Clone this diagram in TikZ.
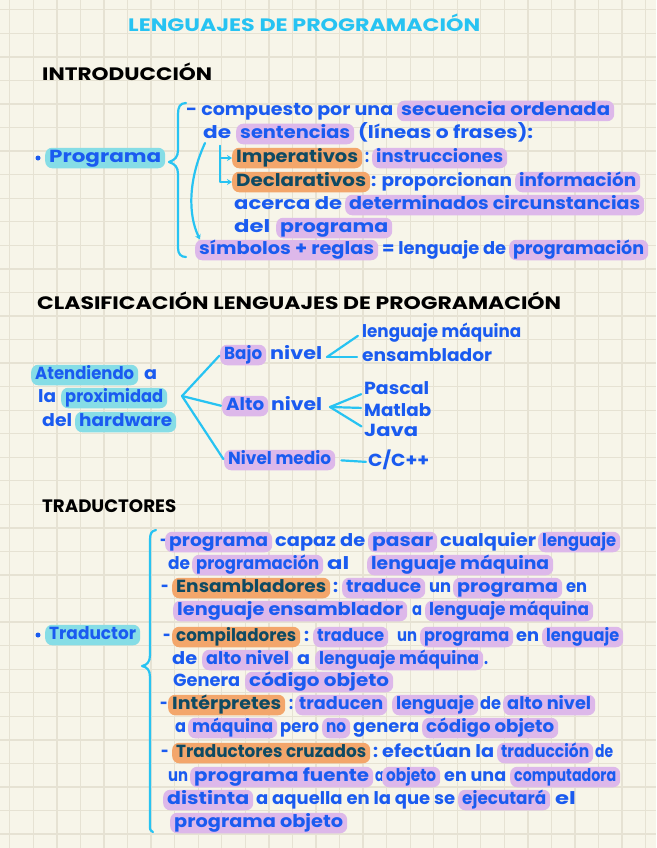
\documentclass[tikz,border=0pt]{standalone}
\usepackage{fontspec}
\usepackage{graphicx}
\setmainfont{Poppins}
\usetikzlibrary{arrows.meta}
\definecolor{bg}{HTML}{F7F5E9}
\definecolor{gridc}{HTML}{E6E2D3}
\definecolor{ink}{HTML}{1A5BF0}
\definecolor{cyanl}{HTML}{27C3F2}
\definecolor{lav}{HTML}{DDB8EA}
\definecolor{orng}{HTML}{F3A66B}
\definecolor{tealh}{HTML}{86DDE6}
\definecolor{dteal}{HTML}{0E4A63}
\newsavebox\fitbox
\newcommand\fitw[2]{\sbox\fitbox{#2}\pgfmathsetmacro\fitr{max(0.75,min(1.3,(#1)/\the\wd\fitbox))}\scalebox{\fitr}[1]{\usebox\fitbox}}
\newcommand\pl[5]{\node[txt] (#1) at (#2,#4+4.25) {\fitw{#3-#2}{#5}};}
\newcommand\hb[6]{\node[#1] (#2) at (#3,#5+4.25) {\fitw{#4-#3-8}{#6}};}
\newcommand\hd[6]{\node[head,#1] (#2) at (#3,#5+7) {\fitw{#4-#3}{#6}};}
\tikzset{
  txt/.style={anchor=base west, inner xsep=0pt, inner ysep=2.5pt, text height=12pt, text depth=3.5pt, font=\fontsize{17.5}{20}\selectfont\bfseries, text=ink},
  hlp/.style={txt, inner xsep=4pt, fill=lav, rounded corners=7pt},
  hlo/.style={txt, inner xsep=4pt, fill=orng, rounded corners=7pt, text=dteal},
  hlt/.style={txt, inner xsep=4pt, fill=tealh, rounded corners=7pt},
  head/.style={anchor=base west, inner sep=0pt, font=\fontsize{18}{20}\selectfont\bfseries, text=black},
  conn/.style={draw=cyanl, line width=2.2pt, line cap=round, line join=round},
  gridl/.style={draw=gridc, line width=1.3pt},
  dotn/.style={circle, fill=ink, inner sep=0pt, minimum size=5pt},
  arr/.style={conn, -{Stealth[length=5pt,width=6pt]}}
}
\begin{document}
\begin{tikzpicture}[x=1pt,y=-1pt]
\useasboundingbox (0,0) rectangle (656,848);
\fill[bg] (0,0) rectangle (656,848);
\foreach \i in {0,...,27} {\draw[gridl] (9.8+23.55*\i,0) -- (9.8+23.55*\i,848);}
\foreach \i in {0,...,35} {\draw[gridl] (0,9.8+23.55*\i) -- (656,9.8+23.55*\i);}

% headings
\hd{text=cyanl}{title}{128}{480}{25}{LENGUAJES DE PROGRAMACIÓN}
\hd{}{h1}{42}{212}{74}{INTRODUCCIÓN}
\hd{}{h2}{37}{561}{302}{CLASIFICACIÓN LENGUAJES DE PROGRAMACIÓN}
\hd{}{h3}{42}{176}{505}{TRADUCTORES}

% Programa
\node[dotn] (d1) at (38,158) {};
\hb{hlt}{prog}{45}{165}{158}{Programa}
\pl{i1a}{186}{393}{111}{- compuesto por una}
\hb{hlp}{i1b}{397}{614}{111}{secuencia ordenada}
\pl{i2a}{203}{231}{134}{de}
\hb{hlp}{i2b}{236}{354}{134}{sentencias}
\pl{i2c}{358}{533}{134}{(líneas o frases):}
\hb{hlo}{imp}{232}{362}{158}{Imperativos}
\pl{i3b}{365}{369}{158}{:}
\hb{hlp}{i3c}{372}{507}{158}{instrucciones}
\hb{hlo}{dec}{232}{370}{182}{Declarativos}
\pl{i4b}{371}{512}{182}{: proporcionan}
\hb{hlp}{i4c}{515}{640}{182}{información}
\pl{i5a}{234}{342}{205}{acerca de}
\hb{hlp}{i5b}{345}{644}{205}{determinados circunstancias}
\pl{i6a}{234}{272}{228}{del}
\hb{hlp}{i6b}{276}{392}{228}{programa}
\hb{hlp}{sym}{195}{378}{250}{símbolos + reglas}
\pl{i7b}{382}{506}{250}{= lenguaje de}
\hb{hlp}{i7c}{509}{648}{250}{programación}

\draw[conn] (186,103) .. controls (180,103) and (178,107) .. (178,114) -- (178,150) .. controls (178,157) and (175,160) .. (169,162) .. controls (175,164) and (178,167) .. (178,174) -- (178,248) .. controls (178,254) and (181,257) .. (186,257);
\coordinate (lt) at (220,146);
\draw[arr] (lt) |- (imp.west);
\draw[arr] (lt) |- (dec.west);
\coordinate (ca) at (205,143);
\draw[arr] (ca) .. controls (188,180) and (188,215) .. ([xshift=5pt]sym.north west);

% Clasificacion
\hb{hlt}{s2a}{31}{138}{375}{Atendiendo}
\pl{s2b}{144}{157}{375}{a}
\pl{s2c}{38}{56}{398}{la}
\hb{hlt}{s2d}{61}{167}{398}{proximidad}
\pl{s2e}{42}{72}{422}{del}
\hb{hlt}{s2f}{75}{176}{422}{hardware}
\hb{hlp}{bajo}{220}{266}{355}{Bajo}
\pl{bajon}{270}{322}{355}{nivel}
\hb{hlp}{alto}{222}{268}{406}{Alto}
\pl{alton}{271}{322}{406}{nivel}
\hb{hlp}{medio}{224}{335}{460}{Nivel medio}
\pl{lm}{362}{521}{333}{lenguaje máquina}
\pl{ens}{362}{492}{357}{ensamblador}
\pl{pas}{364}{429}{390}{Pascal}
\pl{mat}{364}{431}{412}{Matlab}
\pl{jav}{364}{418}{432}{Java}
\pl{cpp}{368}{429}{462}{C/C++}

\coordinate (f1) at (182,396);
\draw[conn, shorten >=1pt] (f1) -- (bajo.west);
\draw[conn, shorten >=1pt] (f1) -- (alto.west);
\draw[conn, shorten >=1pt] (f1) -- (medio.west);
\coordinate (f2) at (327,357);
\draw[conn, shorten >=5pt] (f2) -- (lm.west);
\draw[conn, shorten >=5pt] (f2) -- (ens.west);
\coordinate (f3) at (330,407);
\draw[conn, shorten >=3pt] (f3) -- ([yshift=-3pt]pas.west);
\draw[conn, shorten >=3pt] (f3) -- ([yshift=4pt]mat.west);
\draw[conn, shorten >=3pt] (f3) -- ([yshift=4pt]jav.west);
\draw[conn, shorten <=6pt, shorten >=2pt] (medio.east) -- (cpp.west);

% Traductores
\node[dotn] (d2) at (38,635) {};
\hb{hlt}{trad}{45}{140}{635}{Traductor}
\draw[conn] (156,530) .. controls (151,531) and (150,534) .. (150,540) -- (150,655) .. controls (150,662) and (147,665) .. (142,666) .. controls (147,667) and (150,670) .. (150,677) -- (150,826) .. controls (150,830) .. (153,832);

\pl{t1a}{160}{165}{542}{-}
\hb{hlp}{t1b}{165}{272}{542}{programa}
\pl{t1c}{275}{365}{542}{capaz de}
\hb{hlp}{t1d}{368}{437}{542}{pasar}
\pl{t1e}{440}{536}{542}{cualquier}
\hb{hlp}{t1f}{538}{620}{542}{lenguaje}

\pl{t2a}{168}{190}{565}{de}
\hb{hlp}{t2b}{192}{323}{565}{programación}
\pl{t2c}{327}{360}{565}{al}
\hb{hlp}{t2d}{367}{553}{565}{lenguaje máquina}

\pl{t3a}{161}{167}{588}{-}
\hb{hlo}{t3b}{172}{330}{588}{Ensambladores}
\pl{t3c}{333}{338}{588}{:}
\hb{hlp}{t3d}{342}{425}{588}{traduce}
\pl{t3e}{429}{451}{588}{un}
\hb{hlp}{t3f}{453}{562}{588}{programa}
\pl{t3g}{566}{587}{588}{en}

\hb{hlp}{t4a}{173}{407}{611}{lenguaje ensamblador}
\pl{t4b}{412}{422}{611}{a}
\hb{hlp}{t4c}{425}{593}{611}{lenguaje máquina}

\pl{t5a}{163}{168}{637}{-}
\hb{hlo}{t5b}{172}{300}{637}{compiladores}
\pl{t5c}{304}{309}{637}{:}
\hb{hlp}{t5d}{313}{388}{637}{traduce}
\pl{t5e}{397}{417}{637}{un}
\hb{hlp}{t5f}{420}{513}{637}{programa}
\pl{t5g}{516}{539}{637}{en}
\hb{hlp}{t5h}{542}{623}{637}{lenguaje}

\pl{t6a}{172}{197}{660}{de}
\hb{hlp}{t6b}{202}{293}{660}{alto nivel}
\pl{t6c}{297}{310}{660}{a}
\hb{hlp}{t6d}{315}{483}{660}{lenguaje máquina}
\pl{t6e}{484}{488}{660}{.}

\pl{t7a}{173}{240}{682}{Genera}
\hb{hlp}{t7b}{245}{393}{682}{código objeto}

\pl{t8a}{160}{165}{705}{-}
\hb{hlo}{t8b}{168}{285}{705}{Intérpretes}
\pl{t8c}{289}{293}{705}{:}
\hb{hlp}{t8d}{295}{387}{705}{traducen}
\hb{hlp}{t8e}{392}{478}{705}{lenguaje}
\pl{t8f}{480}{501}{705}{de}
\hb{hlp}{t8g}{503}{595}{705}{alto nivel}

\pl{t9a}{175}{186}{728}{a}
\hb{hlp}{t9b}{188}{277}{728}{máquina}
\pl{t9c}{280}{319}{728}{pero}
\hb{hlp}{t9d}{322}{350}{728}{no}
\pl{t9e}{353}{419}{728}{genera}
\hb{hlp}{t9f}{422}{558}{728}{código objeto}

\pl{t10a}{161}{166}{753}{-}
\hb{hlo}{t10b}{172}{370}{753}{Traductores cruzados}
\pl{t10c}{373}{378}{753}{:}
\pl{t10d}{382}{494}{753}{efectúan la}
\hb{hlp}{t10e}{497}{593}{753}{traducción}
\pl{t10f}{595}{613}{753}{de}

\pl{t11a}{168}{188}{777}{un}
\hb{hlp}{t11b}{190}{373}{777}{programa fuente}
\pl{t11c}{375}{381}{777}{a}
\hb{hlp}{t11d}{382}{440}{777}{objeto}
\pl{t11e}{444}{506}{777}{en una}
\hb{hlp}{t11f}{510}{620}{777}{computadora}

\hb{hlp}{t12a}{163}{253}{800}{distinta}
\pl{t12b}{256}{455}{800}{a aquella en la que se}
\hb{hlp}{t12c}{458}{550}{800}{ejecutará}
\pl{t12d}{555}{577}{800}{el}

\hb{hlp}{t13a}{170}{347}{823}{programa objeto}
\end{tikzpicture}
\end{document}
